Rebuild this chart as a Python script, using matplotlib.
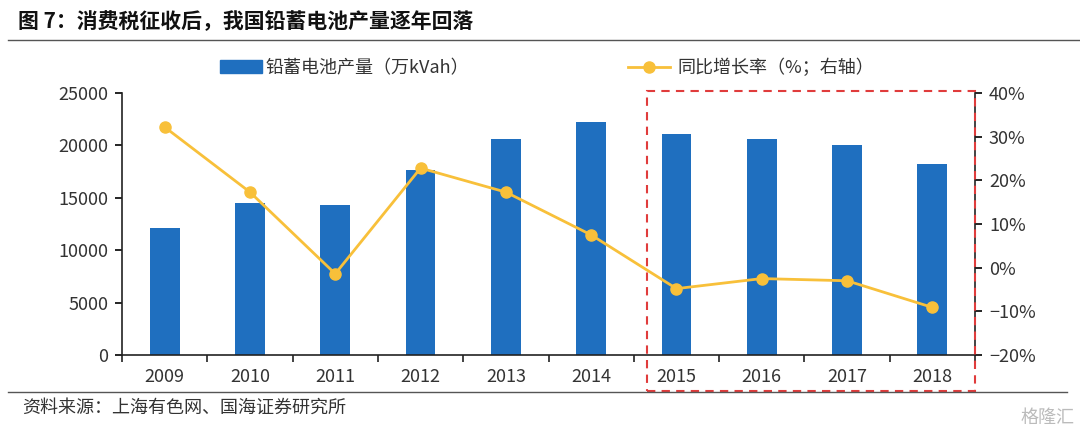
import matplotlib.pyplot as plt
import matplotlib.ticker as ticker
from matplotlib.patches import Rectangle
from matplotlib.lines import Line2D
import numpy as np

plt.rcParams['font.family'] = ['Noto Sans CJK SC', 'DejaVu Sans']

# data
years = ['2009', '2010', '2011', '2012', '2013', '2014', '2015', '2016', '2017', '2018']
output = [12100, 14500, 14300, 17650, 20600, 22200, 21100, 20600, 20050, 18250]   # 万kVah
growth = [32.2, 17.3, -1.4, 22.8, 17.3, 7.5, -4.8, -2.5, -3.0, -9.1]            # %

title = '图 7：消费税征收后，我国铅蓄电池产量逐年回落'
source = '资料来源：上海有色网、国海证券研究所'
bar_label = '铅蓄电池产量（万kVah）'
line_label = '同比增长率（%；右轴）'

blue = '#1F6FBF'
yellow = '#F8C03A'
txt = '#333333'

fig = plt.figure(figsize=(10.8, 4.33), dpi=100)
ax = fig.add_axes([122/1080, 1-355/433, (975-122)/1080, 262/433])
x = np.arange(len(years))

ax.bar(x, output, width=0.35, color=blue, zorder=2)
ax.set_xlim(-0.5, len(years)-0.5)
ax.set_ylim(0, 25000)
ax.set_yticks(np.arange(0, 25001, 5000))

# tick marks between categories, labels centred
ax.set_xticks(np.arange(-0.5, len(years), 1))
ax.set_xticklabels([])
ax.set_xticks(x, minor=True)
ax.set_xticklabels(years, minor=True)
ax.tick_params(axis='x', which='major', length=5, width=1.2, direction='out', color='#222222')
ax.tick_params(axis='x', which='minor', length=0, pad=9, labelsize=13, labelcolor=txt)
ax.tick_params(axis='y', length=5, width=1.2, direction='out', labelsize=13, labelcolor=txt, pad=5)

for s in ['top', 'right']:
    ax.spines[s].set_visible(False)
for s in ['left', 'bottom']:
    ax.spines[s].set_linewidth(1.2)
    ax.spines[s].set_color('#222222')

ax2 = ax.twinx()
ax2.plot(x, growth, color=yellow, lw=2, marker='o', ms=8, zorder=3)
ax2.set_ylim(-20, 40)
ax2.set_yticks(np.arange(-20, 41, 10))
ax2.yaxis.set_major_formatter(ticker.FuncFormatter(lambda v, pos: '{0:g}%'.format(v).replace('-', '−')))
ax2.tick_params(axis='y', length=5, width=1.2, direction='out', labelsize=13, labelcolor=txt, pad=5)
for s in ['top', 'left', 'bottom']:
    ax2.spines[s].set_visible(False)
ax2.spines['right'].set_linewidth(1.2)
ax2.spines['right'].set_color('#222222')

# legend, two entries placed separately
leg1 = fig.legend([Rectangle((0, 0), 1, 1, color=blue)], [bar_label], loc='center left',
                  bbox_to_anchor=(204/1080, 1-68/433), frameon=False, fontsize=13,
                  handlelength=2.3, handletextpad=0.2, labelcolor=txt)
leg2 = fig.legend([Line2D([], [], color=yellow, lw=2, marker='o', ms=8)], [line_label],
                  loc='center left', bbox_to_anchor=(612/1080, 1-68/433), frameon=False,
                  fontsize=13, handlelength=2.3, handletextpad=0.4, labelcolor=txt)

# title, source and rules
fig.text(18/1080, 1-22/433, title, fontsize=15, fontweight='bold', color='#111111', va='center')
fig.add_artist(Line2D([8/1080, 1], [1-40/433, 1-40/433], color='#555555', lw=1))
fig.add_artist(Line2D([8/1080, 1067/1080], [1-392/433, 1-392/433], color='#555555', lw=1))
fig.text(22/1080, 1-408/433, source, fontsize=13, color=txt, va='center')
fig.text(1075/1080, 1-418/433, '格隆汇', fontsize=13, color='#bbbbbb', va='center', ha='right')

# red dashed box around 2015-2018
fig.add_artist(Rectangle((647/1080, 1-391/433), (975-647)/1080, (391-91)/433,
                         fill=False, edgecolor='#E03C3C', lw=1.5, ls=(0, (4, 3))))

plt.savefig('out.png', dpi=100)
